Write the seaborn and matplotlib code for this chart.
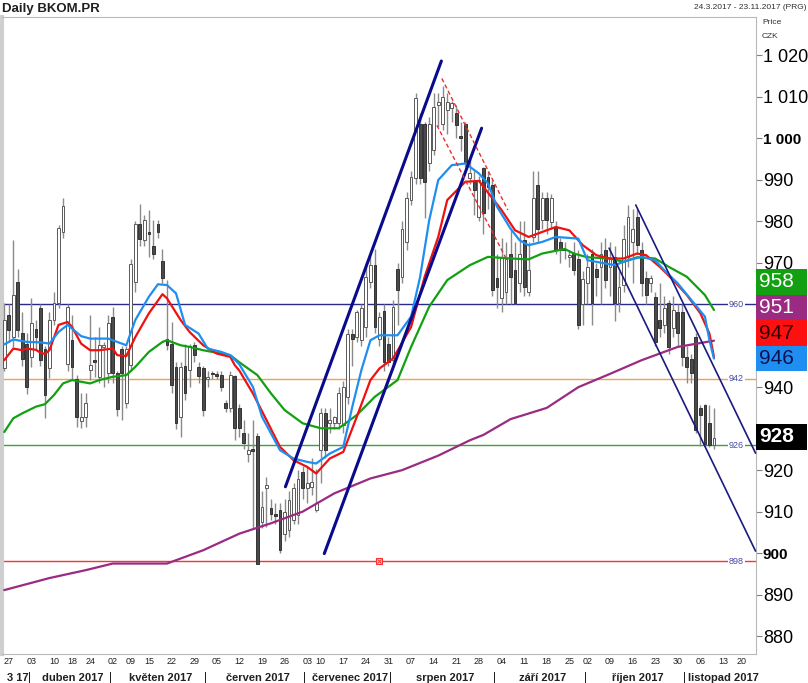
import matplotlib
matplotlib.use("Agg")
import matplotlib.pyplot as plt
import matplotlib.transforms as mtrans
from matplotlib.patches import Rectangle
from matplotlib import font_manager
import numpy as np
import pandas as pd
import seaborn as sns

# trading calendar of the Prague exchange (holidays removed)
holidays = ["2017-04-14", "2017-04-17", "2017-05-01", "2017-05-08",
            "2017-07-05", "2017-07-06", "2017-09-28", "2017-11-17"]
days = pd.bdate_range("2017-03-24", "2017-11-23")
days = days[~days.isin(pd.to_datetime(holidays))]

# daily OHLC
opens = [944.5, 957.4, 952.1, 965.4, 953.1, 950.5, 947.3, 954.1, 959.0, 949.3,
         944.5, 956.2, 960.2, 977.4, 945.7, 951.3, 941.9, 931.9, 932.7, 944.1,
         946.5, 942.5, 949.7, 943.3, 957.0, 943.5, 949.1, 936.1, 945.3, 965.4,
         979.4, 975.4, 977.4, 974.0, 979.3, 970.4, 951.5, 950.5, 944.9, 932.9,
         945.1, 944.1, 950.1, 944.9, 944.5, 941.9, 943.5, 943.1, 942.9, 936.2,
         934.9, 942.7, 934.9, 929.0, 923.8, 925.0, 928.3, 907.6, 915.6, 910.8,
         909.5, 910.4, 904.7, 905.5, 908.0, 909.2, 919.6, 915.6, 916.0, 910.4,
         924.8, 933.7, 931.3, 931.3, 931.3, 930.9, 937.7, 952.9, 952.1, 951.3,
         954.5, 965.4, 969.4, 951.7, 958.4, 950.5, 946.5, 968.4, 966.6, 975.0,
         985.1, 990.3, 1003.5, 1003.5, 993.9, 997.1, 1008.0, 1003.5, 1006.8, 1007.2,
         1006.0, 1000.5, 1003.5, 990.3, 989.5, 981.0, 992.7, 990.7, 988.7, 966.2,
         961.4, 963.0, 972.2, 968.2, 965.0, 975.4, 963.0, 976.2, 988.7, 980.3,
         985.5, 979.8, 978.6, 975.0, 973.4, 971.4, 972.2, 971.0, 960.0, 965.0,
         972.2, 968.4, 969.0, 973.0, 969.0, 971.4, 960.2, 964.6, 971.4, 975.0,
         981.0, 973.0, 966.2, 965.0, 961.8, 956.2, 955.0, 960.2, 954.2, 958.0,
         958.2, 947.3, 946.9, 952.1, 934.9, 935.7, 931.3, 926.0]
highs = [960.2, 960.0, 975.4, 968.4, 958.2, 953.0, 961.6, 956.2, 960.0, 950.0,
         958.0, 963.0, 979.0, 985.5, 960.0, 957.4, 943.0, 938.5, 938.5, 957.4,
         952.1, 954.5, 951.0, 957.4, 959.4, 944.0, 950.0, 950.0, 971.0, 980.0,
         984.1, 981.5, 982.8, 980.4, 980.2, 973.4, 965.8, 955.8, 946.0, 946.0,
         950.5, 950.5, 951.0, 946.0, 945.0, 944.0, 944.0, 944.0, 944.0, 937.0,
         944.0, 943.0, 936.0, 932.0, 929.0, 932.0, 929.0, 915.0, 918.4, 913.0,
         912.0, 912.0, 913.0, 915.0, 917.0, 920.0, 921.0, 921.0, 923.0, 920.2,
         935.0, 935.0, 935.0, 933.0, 940.0, 941.5, 954.0, 954.0, 958.5, 960.0,
         970.0, 972.0, 973.4, 958.0, 960.0, 952.0, 961.0, 970.0, 980.0, 987.0,
         992.0, 1011.0, 1006.0, 1004.0, 1005.0, 1010.8, 1011.0, 1012.6, 1011.0, 1009.0,
         1008.0, 1004.0, 1004.0, 995.0, 992.0, 991.0, 993.0, 992.0, 990.0, 972.0,
         976.0, 975.0, 978.0, 975.0, 980.0, 980.0, 975.0, 992.0, 992.0, 987.0,
         987.0, 986.5, 980.0, 976.0, 975.0, 973.0, 975.0, 973.0, 968.0, 972.0,
         973.4, 970.0, 975.0, 976.0, 975.0, 974.0, 968.0, 979.0, 984.0, 983.0,
         983.0, 975.0, 968.0, 967.0, 963.0, 965.0, 962.0, 961.0, 962.0, 960.0,
         960.0, 950.0, 948.0, 953.0, 935.6, 936.0, 935.6, 935.0]
lows = [944.0, 951.0, 949.7, 952.0, 945.0, 938.4, 944.9, 949.0, 945.0, 932.5,
        942.1, 955.0, 959.0, 976.0, 944.0, 941.7, 930.5, 930.1, 930.5, 941.7,
        942.5, 941.0, 940.0, 941.0, 941.0, 933.0, 932.2, 935.0, 944.0, 963.0,
        974.0, 974.0, 971.4, 971.0, 976.0, 965.0, 949.0, 938.5, 930.0, 928.0,
        937.0, 940.0, 946.0, 941.0, 933.0, 940.0, 942.0, 942.0, 939.0, 934.0,
        934.0, 927.3, 928.0, 925.0, 922.0, 906.0, 897.5, 906.0, 906.3, 908.0,
        907.0, 900.0, 903.0, 904.0, 907.0, 907.0, 913.0, 912.0, 914.0, 910.0,
        917.0, 923.0, 929.0, 930.0, 930.0, 929.0, 936.0, 945.0, 951.0, 950.0,
        952.0, 964.0, 953.0, 950.0, 944.0, 945.0, 945.0, 955.0, 965.0, 973.0,
        984.0, 989.0, 989.0, 980.7, 992.0, 996.0, 1002.8, 1002.0, 1001.0, 1004.0,
        1000.0, 997.0, 993.0, 989.0, 981.6, 980.0, 977.0, 983.0, 962.0, 959.0,
        958.0, 960.0, 960.0, 960.0, 963.0, 962.0, 962.0, 975.0, 975.0, 978.0,
        977.0, 978.0, 972.0, 970.0, 971.0, 969.0, 967.0, 954.0, 955.0, 960.0,
        955.0, 962.0, 960.0, 964.0, 962.0, 956.0, 958.0, 963.0, 969.0, 965.0,
        972.0, 962.0, 960.0, 963.0, 950.0, 952.0, 953.0, 948.0, 952.0, 950.0,
        945.0, 941.0, 941.0, 929.0, 925.8, 925.5, 925.5, 925.0]
closes = [956.2, 953.8, 962.2, 953.8, 946.9, 940.1, 955.4, 952.1, 946.5, 938.1,
          956.3, 960.2, 978.4, 983.6, 959.4, 944.9, 932.7, 932.9, 936.2, 945.3,
          946.1, 950.1, 950.1, 955.4, 943.3, 934.7, 943.5, 949.3, 969.8, 979.4,
          975.8, 980.4, 977.0, 972.2, 977.4, 966.2, 950.1, 940.5, 931.4, 944.9,
          938.5, 950.0, 947.7, 942.7, 934.5, 942.5, 943.1, 942.7, 940.1, 934.9,
          942.9, 930.1, 930.1, 926.6, 924.8, 924.5, 897.5, 911.2, 916.4, 909.4,
          909.0, 900.7, 910.0, 912.8, 915.6, 917.8, 915.6, 916.8, 917.2, 912.0,
          933.7, 924.8, 932.1, 932.9, 938.5, 940.1, 952.9, 951.7, 958.2, 959.0,
          966.6, 969.4, 954.5, 957.0, 946.1, 946.1, 959.4, 963.4, 978.2, 985.5,
          990.7, 1009.8, 990.3, 989.5, 1003.5, 1007.6, 1008.8, 1010.0, 1008.8, 1008.4,
          1003.1, 1000.1, 993.9, 991.5, 987.5, 990.0, 981.9, 988.3, 963.4, 964.2,
          971.4, 971.0, 966.6, 960.2, 972.2, 964.2, 968.2, 985.5, 978.2, 985.5,
          980.3, 985.5, 973.0, 973.0, 973.0, 971.8, 968.2, 955.0, 966.0, 969.0,
          960.2, 966.6, 972.2, 965.8, 971.0, 960.2, 964.2, 975.8, 981.1, 978.0,
          974.2, 965.0, 962.2, 966.2, 951.0, 954.2, 959.0, 949.7, 958.6, 953.0,
          947.3, 944.9, 943.3, 929.7, 933.3, 926.4, 926.0, 927.8]

# moving averages, sampled off the chart (trading-day index, price)
blue_days = [0, 2, 5, 8, 10, 12, 14, 15, 17, 19, 23, 25, 27, 29, 32, 34, 36, 38, 40, 43,
             45, 48, 50, 52, 55, 57, 61, 64, 67, 69, 72, 75, 77, 79, 81, 83, 87, 90, 92, 94,
             96, 99, 102, 105, 107, 109, 112, 114, 116, 119, 122, 127, 129, 132, 135, 138,
             141, 144, 146, 149, 152, 155, 156, 157]
blue_vals = [950.3, 951.5, 950.9, 950.8, 950.5, 953.3, 955.0, 954.1, 952.3, 951.7,
             951.7, 950.9, 950.1, 956.2, 961.8, 964.8, 964.6, 962.6, 955.0, 952.9,
             949.3, 948.5, 947.7, 945.5, 940.1, 932.9, 924.8, 922.8, 922.0, 921.6,
             924.0, 925.6, 935.3, 944.1, 951.3, 952.5, 952.5, 957.0, 966.6, 980.2,
             989.9, 993.5, 993.9, 991.5, 989.1, 983.5, 978.2, 975.4, 974.2, 975.0,
             976.2, 975.8, 970.6, 970.0, 969.4, 970.6, 971.4, 970.6, 968.2, 965.0,
             961.0, 957.0, 951.3, 946.9]
red_days = [0, 2, 4, 5, 7, 8, 9, 10, 12, 14, 15, 17, 19, 21, 24, 25, 27, 29, 32, 35,
            36, 39, 41, 44, 47, 50, 51, 52, 55, 58, 61, 64, 67, 69, 72, 75, 78, 81, 83, 86,
            90, 93, 96, 98, 102, 105, 110, 113, 116, 119, 122, 125, 128, 131, 134, 137,
            140, 142, 145, 148, 151, 154, 156, 157]
red_vals = [946.5, 949.3, 948.9, 949.3, 949.0, 948.3, 948.0, 948.9, 955.0, 955.7,
            954.5, 950.5, 948.9, 948.9, 949.3, 947.7, 947.5, 952.1, 957.8, 962.4,
            961.4, 956.2, 953.3, 950.1, 948.1, 947.3, 945.3, 944.0, 938.5, 932.1,
            925.6, 922.4, 920.8, 919.2, 922.8, 924.4, 932.9, 941.7, 944.5, 946.9,
            954.5, 966.6, 976.2, 985.1, 989.5, 989.7, 982.7, 977.8, 976.2, 977.4,
            978.6, 977.8, 974.2, 971.8, 971.0, 971.0, 972.2, 971.8, 969.0, 965.8,
            962.2, 957.8, 952.9, 947.3]
green_days = [0, 2, 4, 7, 9, 11, 13, 15, 17, 19, 21, 24, 27, 29, 32, 35, 36, 39, 41, 44,
              47, 50, 52, 56, 59, 62, 66, 70, 74, 78, 82, 87, 90, 94, 98, 103, 105, 107,
              112, 116, 119, 124, 126, 129, 134, 137, 140, 144, 147, 151, 155, 157]
green_vals = [929.2, 932.5, 933.7, 935.3, 935.9, 938.1, 940.9, 941.7, 941.3, 940.9,
              941.7, 942.5, 942.9, 944.9, 948.5, 950.9, 951.3, 950.1, 949.7, 948.9,
              948.3, 947.7, 946.0, 942.9, 938.5, 934.5, 931.3, 930.1, 930.1, 933.3,
              937.7, 941.7, 949.7, 959.4, 965.8, 969.4, 970.4, 971.4, 971.0, 970.8,
              972.2, 973.3, 972.2, 971.3, 971.0, 970.2, 971.3, 971.0, 969.0, 966.6,
              962.2, 958.6]
purple_days = [0, 10, 18, 24, 36, 44, 52, 59, 66, 73, 81, 88, 96, 103, 106, 112, 120,
               127, 134, 141, 149, 157]
purple_vals = [891.1, 894.0, 895.9, 897.5, 897.5, 900.7, 904.7, 907.2, 910.0, 914.4,
               918.0, 920.0, 923.5, 927.2, 928.5, 932.3, 935.0, 940.0, 943.2, 946.5,
               949.7, 951.2]

# horizontal levels and hand drawn trend lines (day index, price)
levels = [960, 942, 926, 898]
level_colors = ["#2a2a8a", "#f0a050", "#3ca03c", "#ff3030"]
up_line1 = ([62.2, 96.7], [916.0, 1018.6])
up_line2 = ([70.8, 105.6], [899.9, 1002.4])
down_line1 = ([139.7, 166.2], [983.9, 924.1])
down_line2 = ([133.8, 166.2], [973.5, 900.5])
dash_line1 = ([96.8, 111.4], [1014.4, 982.7])
dash_line2 = ([95.7, 111.4], [1003.1, 970.2])
alarm_day, alarm_price = 83, 898

last_labels = [("946", 946.9, "#1e8ff0", "#101050"), ("947", 947.3, "#ff1010", "#300000"),
               ("951", 951.2, "#9a2a82", "white"), ("958", 958.6, "#12a012", "white")]
last_close = 928

month_names = {3: "3 17", 4: "duben 2017", 5: "květen 2017", 6: "červen 2017",
               7: "červenec 2017", 8: "srpen 2017", 9: "září 2017", 10: "říjen 2017",
               11: "listopad 2017"}

sns.set_theme(style="white")
names = {f.name for f in font_manager.fontManager.ttflist}
narrow = "Liberation Sans Narrow" if "Liberation Sans Narrow" in names else "Liberation Sans"
plt.rcParams["font.family"] = [narrow, "DejaVu Sans"]

fig = plt.figure(figsize=(8.08, 6.83), dpi=100)
ax = fig.add_axes([2 / 808, 1 - 654 / 683, 754 / 808, 637 / 683])
ax.set_xlim(-0.5, 166.3)
ax.set_ylim(875.7, 1029.2)

# levels
for lv, col in zip(levels, level_colors):
    ax.axhline(lv, color=col, lw=1, zorder=1)
    ax.text(162, lv, str(lv), color="#4848a8", fontsize=6.5, ha="center", va="center",
            bbox=dict(boxstyle="square,pad=0.15", fc="white", ec="none"), zorder=2)
ax.plot(alarm_day, alarm_price, marker="s", ms=5, mfc="#ffd0d0", mec="#ff3030", mew=0.8, zorder=3)
ax.plot(alarm_day, alarm_price, marker="x", ms=3, mec="#ff3030", mew=0.7, zorder=3)

# candles
x = np.arange(len(closes))
o = np.array(opens)
c = np.array(closes)
up = c >= o
ax.vlines(x, lows, highs, color="#8a8a8a", lw=1, zorder=3)
body_lo = np.minimum(o, c)
body_h = np.maximum(np.abs(c - o), 0.35)
ax.bar(x[up], body_h[up], bottom=body_lo[up], width=0.62, color="white",
       edgecolor="#5a5a5a", lw=0.7, zorder=4)
ax.bar(x[~up], body_h[~up], bottom=body_lo[~up], width=0.62, color="#4a4a4a",
       edgecolor="#333333", lw=0.7, zorder=4)

# moving averages
sns.lineplot(x=purple_days, y=purple_vals, color="#9a2a82", lw=1.6, ax=ax, zorder=5)
sns.lineplot(x=green_days, y=green_vals, color="#12a012", lw=1.6, ax=ax, zorder=5)
sns.lineplot(x=red_days, y=red_vals, color="#f01010", lw=1.6, ax=ax, zorder=6)
sns.lineplot(x=blue_days, y=blue_vals, color="#1e8ff0", lw=1.6, ax=ax, zorder=6)

# trend lines
for xs, ys in (up_line1, up_line2):
    ax.plot(xs, ys, color="#0a0a8c", lw=2.2, zorder=7, clip_on=False)
for xs, ys in (down_line1, down_line2):
    ax.plot(xs, ys, color="#1a1a80", lw=1.2, zorder=7, clip_on=False)
for xs, ys in (dash_line1, dash_line2):
    ax.plot(xs, ys, color="#e83030", lw=1, ls=(0, (3, 2)), zorder=7)

# right price axis (labels hidden where the value boxes sit)
ax.yaxis.tick_right()
yt = list(range(880, 1021, 10))
covered = {930, 950, 960}
ax.set_yticks(yt)
ax.set_yticklabels(["" if v in covered else f"{v:,}".replace(",", " ") for v in yt])
ax.tick_params(axis="y", length=4, width=0.8, color="#808080", pad=1,
               labelsize=13, labelcolor="black", right=True)
for lab in ax.get_yticklabels():
    if lab.get_text() in ("1 000", "900"):
        lab.set_fontweight("bold")
        lab.set_fontsize(11)

# last value boxes on the right
tr = mtrans.blended_transform_factory(ax.transAxes, ax.transData)
box_h = 6.15
pos = None
for txt, val, fc, tc in last_labels:
    pos = val if pos is None else max(val, pos + box_h)
    ax.add_patch(Rectangle((1.0, pos - box_h / 2), 0.0676, box_h, transform=tr,
                           fc=fc, ec="none", clip_on=False, zorder=10))
    ax.text(1.004, pos, txt, transform=tr, fontsize=15, color=tc, ha="left", va="center",
            zorder=11, clip_on=False)
ax.add_patch(Rectangle((1.0, last_close - box_h / 2), 0.0676, box_h, transform=tr,
                       fc="black", ec="none", clip_on=False, zorder=10))
ax.text(1.004, last_close, str(last_close), transform=tr, fontsize=15, color="white",
        fontweight="bold", ha="left", va="center", zorder=11, clip_on=False)

# date axis
week = days.isocalendar().week.values
starts = [i for i in range(1, len(days)) if week[i] != week[i - 1]]
ax.set_xticks(starts)
ax.set_xticklabels([days[i].strftime("%d") for i in starts])
ax.tick_params(axis="x", length=0, pad=2, labelsize=6.5, labelcolor="#202020", bottom=True)

months = days.month.values
trx = mtrans.blended_transform_factory(ax.transData, ax.transAxes)
for m in sorted(set(months)):
    idx = np.where(months == m)[0]
    ax.text((idx[0] + idx[-1]) / 2 + 0.6, -0.037, month_names[m], transform=trx, ha="center",
            va="center", fontsize=8, fontweight="bold", color="#202020")
    if idx[0] > 0:
        ax.text(idx[0] - 0.5, -0.037, "|", transform=trx, ha="center", va="center",
                fontsize=8.5, color="#202020")

for side in ("top", "right", "bottom"):
    ax.spines[side].set_color("#b8b8b8")
    ax.spines[side].set_linewidth(0.8)
ax.spines["left"].set_color("#cfcfcf")
ax.spines["left"].set_linewidth(3)

fig.text(2 / 808, 1 - 3 / 683, "Daily BKOM.PR", fontsize=9.5, fontweight="bold",
         ha="left", va="top", color="#202020")
fig.text(806 / 808, 1 - 4 / 683, "24.3.2017 - 23.11.2017 (PRG)", fontsize=6,
         ha="right", va="top", color="#303030")
fig.text(762 / 808, 1 - 22 / 683, "Price", fontsize=6, ha="left", va="center", color="#303030")
fig.text(762 / 808, 1 - 37 / 683, "CZK", fontsize=6, ha="left", va="center", color="#303030")

fig.savefig("out.png", dpi=100)
